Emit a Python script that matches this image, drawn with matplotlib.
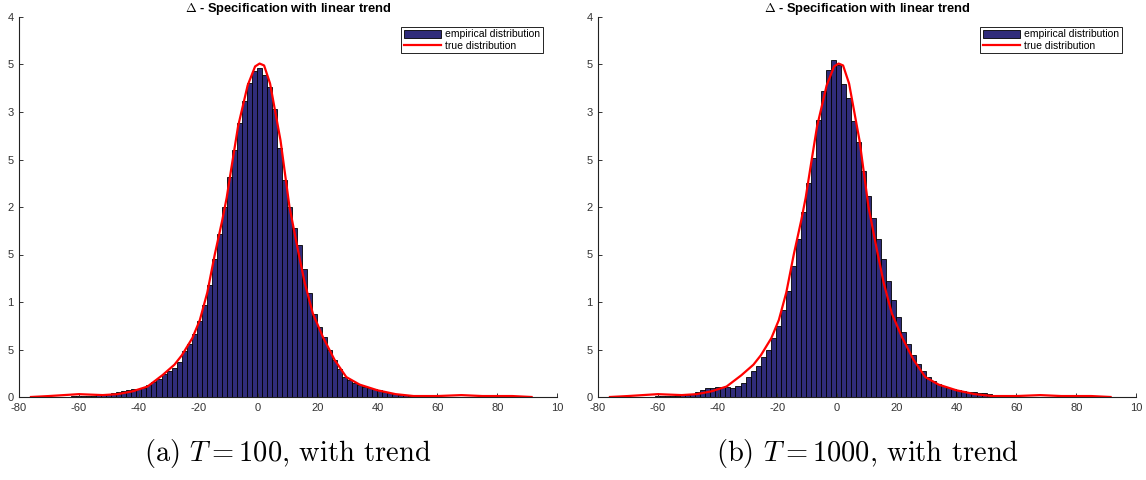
import matplotlib.pyplot as plt
import numpy as np

plt.rcParams['font.family'] = ['Liberation Sans', 'DejaVu Sans']
plt.rcParams['mathtext.fontset'] = 'cm'

# histogram bins (100 bins between the sample min and max)
bin_lo, bin_hi, n_bins = -76.0, 92.0, 100

# empirical density per bin, T = 100
dens_a = [0, 0, 0.00003, 0.00003, 0.00003, 0.00005, 0.00005, 0.00005, 0.00008, 0.0001,
          0.0001, 0.00012, 0.00015, 0.00018, 0.00025, 0.0003, 0.0004, 0.00055, 0.00062, 0.00075,
          0.0008, 0.00088, 0.001, 0.0013, 0.0016, 0.0019, 0.0024, 0.0027, 0.0031, 0.0037,
          0.0048, 0.0056, 0.0066, 0.0080, 0.0097, 0.0118, 0.0145, 0.0172, 0.0200, 0.0232,
          0.0260, 0.0288, 0.0312, 0.0331, 0.0343, 0.0346, 0.0339, 0.0326, 0.0303, 0.0262,
          0.0228, 0.0200, 0.0178, 0.0160, 0.0135, 0.0109, 0.0087, 0.0074, 0.0063, 0.0050,
          0.0039, 0.0029, 0.0021, 0.0018, 0.0015, 0.0013, 0.0011, 0.0009, 0.0008, 0.0007,
          0.0005, 0.0004, 0.0003, 0.00025, 0.0002, 0.00012, 0.0001, 0.00008, 0.00005, 0.00005,
          0.00004, 0.00003, 0.00003, 0.00003, 0.00002, 0.00002, 0.00002, 0.00002, 0.00002, 0.00002,
          0.00002, 0.00002, 0.00002, 0.00002, 0, 0, 0, 0, 0, 0]

# empirical density per bin, T = 1000
dens_b = [0, 0, 0, 0.00003, 0.00003, 0.00003, 0.00005, 0.00005, 0.00005, 0.00008,
          0.0001, 0.0001, 0.00012, 0.00015, 0.0002, 0.00025, 0.00035, 0.0005, 0.0007, 0.0009,
          0.001, 0.0011, 0.0011, 0.0011, 0.0010, 0.0012, 0.0015, 0.0021, 0.0027, 0.0033,
          0.0042, 0.0050, 0.0062, 0.0075, 0.0092, 0.0112, 0.0138, 0.0166, 0.0195, 0.0225,
          0.0252, 0.0292, 0.0322, 0.0344, 0.0355, 0.0349, 0.0330, 0.0315, 0.0291, 0.0268,
          0.0238, 0.0212, 0.0188, 0.0166, 0.0145, 0.0122, 0.0102, 0.0084, 0.0068, 0.0056,
          0.0044, 0.0035, 0.0027, 0.0021, 0.0017, 0.0014, 0.0012, 0.0010, 0.0008, 0.0007,
          0.0006, 0.0005, 0.0005, 0.0004, 0.0004, 0.0003, 0.00012, 0.00006, 0.00004, 0.00003,
          0.00003, 0.00002, 0.00002, 0.00002, 0.00002, 0.00002, 0.00002, 0.00002, 0.00002, 0.00002,
          0.00002, 0.00002, 0.00002, 0, 0, 0, 0, 0, 0, 0]

# true density (red line)
true_x = [-76, -70, -60, -52, -47, -42, -37, -32, -28, -25.5, -22, -19.5, -17, -14.5,
          -12, -10.5, -9, -6.7, -3.5, -1, 0.5, 2, 4, 7.5, 10.5, 13.3, 15.6, 18.3, 21.7, 25.6,
          29.5, 34, 40, 46, 52, 60, 68, 75, 85, 91.5]
true_y = [0.0, 0.0001, 0.0003, 0.0002, 0.0003, 0.0006, 0.0011, 0.0023, 0.0034, 0.0044,
          0.0062, 0.0081, 0.0110, 0.0150, 0.0186, 0.0210, 0.0240, 0.0285, 0.0328, 0.0348,
          0.0351, 0.0349, 0.0330, 0.0270, 0.0200, 0.0155, 0.0120, 0.0088, 0.0063, 0.0039,
          0.0021, 0.0013, 0.0007, 0.0003, 0.0001, 0.0001, 0.0002, 0.0001, 0.0001, 0.0]

x_ticks = [-80, -60, -40, -20, 0, 20, 40, 60, 80, 100]
x_labels = ['-80', '-60', '-40', '-20', '0', '20', '40', '60', '80', '10']
y_ticks = [0, 0.005, 0.01, 0.015, 0.02, 0.025, 0.03, 0.035, 0.04]
y_labels = ['0', '5', '1', '5', '2', '5', '3', '5', '4']

title = r'$\Delta$ - Specification with linear trend'
captions = [r'(a) $T = 100$, with trend', r'(b) $T = 1000$, with trend']

W, H = 1146, 480
fig = plt.figure(figsize=(W / 100, H / 100), dpi=100)

edges = np.linspace(bin_lo, bin_hi, n_bins + 1)
centers = (edges[:-1] + edges[1:]) / 2
width = edges[1] - edges[0]

# axes boxes in pixels: left, right, top, bottom
boxes = [(19, 557, 17, 397), (598, 1136, 17, 397)]

for (x0, x1, y0, y1), dens, cap in zip(boxes, [dens_a, dens_b], captions):
    ax = fig.add_axes([x0 / W, (H - y1) / H, (x1 - x0) / W, (y1 - y0) / H])
    bars = ax.bar(centers, dens, width=width, color='#302c7a', edgecolor='black',
                  linewidth=0.6, label='empirical distribution')
    line, = ax.plot(true_x, true_y, color='red', lw=1.6, label='true distribution')
    ax.set_xlim(-80, 100)
    ax.set_ylim(0, 0.04)
    ax.set_xticks(x_ticks, x_labels)
    ax.set_yticks(y_ticks, y_labels)
    ax.tick_params(direction='in', length=3, width=0.7, labelsize=8,
                   colors='#333333', pad=4)
    for s in ['top', 'right']:
        ax.spines[s].set_visible(False)
    for s in ['left', 'bottom']:
        ax.spines[s].set_linewidth(0.8)
        ax.spines[s].set_color('#222222')
    ax.set_title(title, fontsize=9.3, fontweight='bold', pad=3)
    leg = ax.legend([bars, line], ['empirical distribution', 'true distribution'],
                    loc='upper right', bbox_to_anchor=(0.974, 0.974), borderaxespad=0,
                    fontsize=7.5, frameon=True, fancybox=False, framealpha=1,
                    edgecolor='black', handlelength=3.6, handleheight=0.8,
                    labelspacing=0.12, borderpad=0.25, handletextpad=0.4)
    leg.get_frame().set_linewidth(0.6)
    fig.text((x0 + x1) / 2 / W, 1 - 453 / H, cap, ha='center', va='center',
             fontsize=20.5, family='cmr10')

fig.savefig('out.png', dpi=100)
